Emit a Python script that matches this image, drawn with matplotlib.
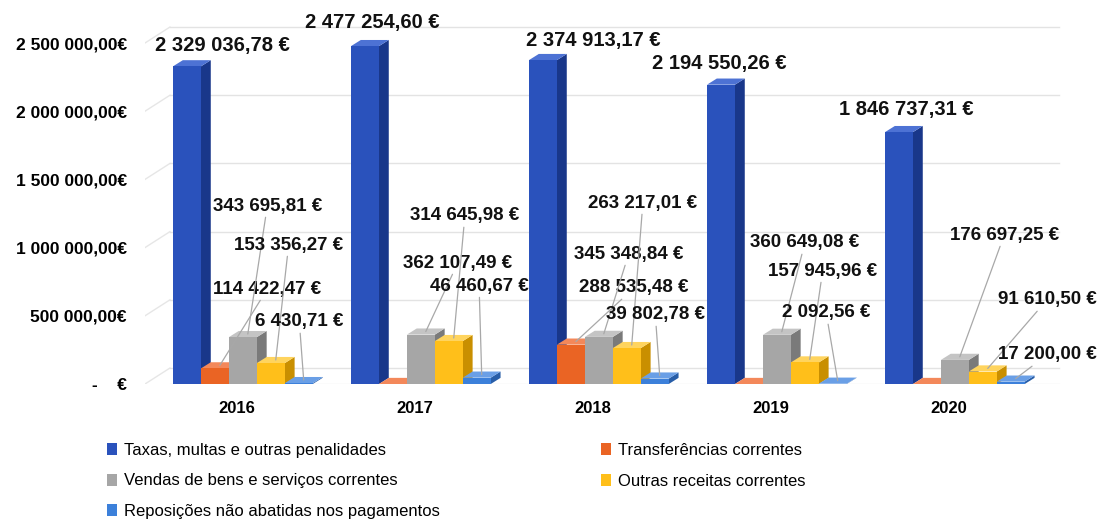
import matplotlib
matplotlib.use('Agg')
import matplotlib.pyplot as plt
from matplotlib.patches import Polygon

plt.rcParams['font.family'] = ['Liberation Sans', 'DejaVu Sans']

years = ['2016', '2017', '2018', '2019', '2020']
series = ['Taxas, multas e outras penalidades', 'Transferências correntes',
          'Vendas de bens e serviços correntes', 'Outras receitas correntes',
          'Reposições não abatidas nos pagamentos']
taxas = [2329036.78, 2477254.60, 2374913.17, 2194550.26, 1846737.31]
transf = [114422.47, 0, 288535.48, 0, 0]
vendas = [343695.81, 362107.49, 345348.84, 360649.08, 176697.25]
outras = [153356.27, 314645.98, 263217.01, 157945.96, 91610.50]
repos = [6430.71, 46460.67, 39802.78, 2092.56, 17200.00]
values = [taxas, transf, vendas, outras, repos]

# (front, side, top) colours per series
colors = [('#2a52bc', '#19378a', '#4d72d4'),
          ('#ea6424', '#b0481a', '#f3885a'),
          ('#a6a6a6', '#7a7a7a', '#c4c4c4'),
          ('#ffbf1a', '#c98f00', '#ffd45e'),
          ('#3c80da', '#285ea8', '#6a9fe6')]

# label text positions (x in category units, y in euros)
label_pos = [
    [(-0.08, 2485000), (0.17, 696000), (0.17, 1305000), (0.29, 1019000), (0.35, 455000)],
    [(0.76, 2654000), None, (1.24, 887000), (1.28, 1232000), (1.36, 718000)],
    [(2.0, 2522000), (2.23, 704000), (2.20, 953000), (2.28, 1327000), (2.35, 506000)],
    [(2.71, 2353000), None, (3.19, 1034000), (3.29, 828000), (3.31, 521000)],
    [(3.76, 2009000), None, (4.31, 1092000), (4.55, 616000), (4.55, 213000)],
]

def eur(v):
    s = f'{v:,.2f}'.replace(',', ' ').replace('.', ',')
    return s + ' €'

yticks = [0, 500000, 1000000, 1500000, 2000000, 2500000]
yticklabels = ['-    €'] + [f'{v:,.2f}'.replace(',', ' ').replace('.', ',') + '€' for v in yticks[1:]]

fig = plt.figure(figsize=(11, 5.2), dpi=100)
ax = fig.add_axes([145 / 1100, 1 - 384 / 520, 945 / 1100, 374 / 520])
xl, xr = -0.517, 4.792
ax.set_xlim(xl, xr)
ax.set_ylim(0, 2742000)

bw = 0.157   # bar width
off = 0.033
ddx = 0.055  # bar depth offsets
ddy = 45000
wdx = 0.14   # back wall offsets
wdy = 117000

# gridlines on back wall
for v in yticks:
    ax.plot([xl, xl + wdx], [v, v + wdy], color='#e6e6e6', lw=1, zorder=0)
    ax.plot([xl + wdx, 4.62], [v + wdy, v + wdy], color='#e3e3e3', lw=1, zorder=0)
ax.plot([xl + wdx, 4.62], [0, 0], color='#ececec', lw=1, zorder=0)

z = 2
for i in range(len(years)):
    for s in range(len(series)):
        v = values[s][i]
        x0 = i + (s - 2.5) * bw + off
        x1 = x0 + bw
        front, side, top = colors[s]
        ax.add_patch(Polygon([(x1, 0), (x1 + ddx, ddy), (x1 + ddx, v + ddy), (x1, v)],
                             closed=True, fc=side, ec='none', zorder=z))
        ax.add_patch(Polygon([(x0, v), (x0 + ddx, v + ddy), (x1 + ddx, v + ddy), (x1, v)],
                             closed=True, fc=top, ec='none', zorder=z))
        ax.bar(x0, v, width=bw, align='edge', color=front, edgecolor='none', zorder=z)
        z += 1

for i in range(len(years)):
    for s in range(len(series)):
        pos = label_pos[i][s]
        if pos is None:
            continue
        v = values[s][i]
        xc = i + (s - 2.5) * bw + off + bw / 2 + ddx / 2
        if s == 0:
            ax.text(pos[0], pos[1], eur(v), ha='center', va='center', fontsize=14.5,
                    fontweight='bold', color='#111111', zorder=100)
        else:
            ax.annotate(eur(v), xy=(xc, v + ddy / 2), xytext=pos, ha='center', va='center',
                        fontsize=13.5, fontweight='bold', color='#111111', zorder=100,
                        arrowprops=dict(arrowstyle='-', color='#a8a8a8', lw=0.9,
                                        shrinkA=0, shrinkB=0))

ax.set_yticks(yticks)
ax.set_yticklabels(yticklabels, fontsize=12.5, fontweight='bold')
ax.set_xticks(range(len(years)))
ax.set_xticklabels(years, fontsize=12, fontweight='bold')
ax.tick_params(axis='both', length=0)
ax.tick_params(axis='y', pad=13)
ax.tick_params(axis='x', pad=12)
for sp in ax.spines.values():
    sp.set_visible(False)

handles = [plt.Rectangle((0, 0), 1, 1, fc=c[0], ec='none') for c in colors]
order = [0, 2, 4, 1, 3]
fig.legend([handles[k] for k in order], [series[k] for k in order], loc='upper left',
           bbox_to_anchor=(92 / 1100, 1 - 428 / 520), ncol=2, frameon=False,
           fontsize=12, handlelength=0.6, handleheight=0.7, handletextpad=0.4,
           labelspacing=0.93, columnspacing=9.7)

fig.savefig('out.png', dpi=100, facecolor='white')
